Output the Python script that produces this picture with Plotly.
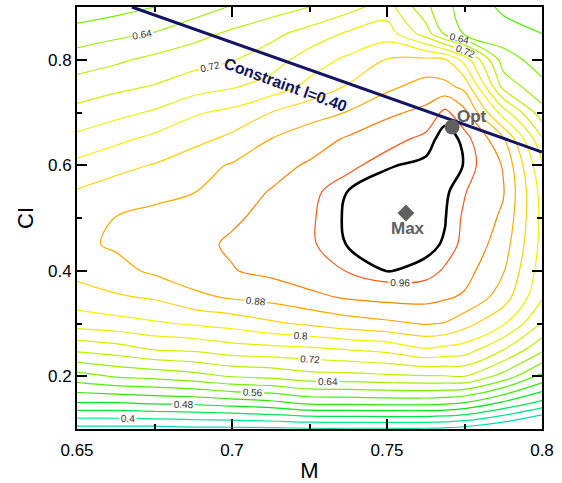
import plotly.graph_objects as go

# ---- grid axes -------------------------------------------------------------
M_values = [0.65, 0.6625, 0.675, 0.6875, 0.70, 0.7125, 0.725, 0.7375,
            0.75, 0.7625, 0.76875, 0.775, 0.7875, 0.80]
CI_values = [0.10, 0.15, 0.20, 0.25, 0.30, 0.35, 0.40, 0.45, 0.50,
             0.55, 0.60, 0.65, 0.70, 0.75, 0.80, 0.85, 0.90]

# ---- objective values, one list per CI row (M increasing) -------------------
ci_010 = [0.345, 0.345, 0.345, 0.350, 0.350, 0.352, 0.355, 0.355, 0.355, 0.355, 0.352, 0.345, 0.320, 0.280]
ci_015 = [0.480, 0.480, 0.487, 0.490, 0.500, 0.510, 0.530, 0.532, 0.535, 0.535, 0.530, 0.520, 0.475, 0.430]
ci_020 = [0.584, 0.604, 0.612, 0.625, 0.643, 0.650, 0.665, 0.667, 0.673, 0.677, 0.678, 0.680, 0.625, 0.550]
ci_025 = [0.688, 0.700, 0.720, 0.726, 0.740, 0.745, 0.750, 0.760, 0.770, 0.795, 0.787, 0.780, 0.720, 0.648]
ci_030 = [0.777, 0.785, 0.795, 0.805, 0.815, 0.833, 0.847, 0.862, 0.872, 0.883, 0.878, 0.855, 0.805, 0.718]
ci_035 = [0.822, 0.835, 0.845, 0.870, 0.885, 0.893, 0.910, 0.925, 0.932, 0.933, 0.925, 0.915, 0.860, 0.765]
ci_040 = [0.852, 0.868, 0.887, 0.905, 0.918, 0.930, 0.945, 0.962, 0.981, 0.975, 0.955, 0.935, 0.883, 0.780]
ci_045 = [0.872, 0.885, 0.894, 0.910, 0.925, 0.938, 0.955, 0.982, 0.990, 0.985, 0.978, 0.950, 0.900, 0.788]
ci_050 = [0.862, 0.881, 0.890, 0.905, 0.915, 0.930, 0.955, 0.985, 0.993, 0.990, 0.981, 0.955, 0.913, 0.790]
ci_055 = [0.843, 0.855, 0.870, 0.878, 0.903, 0.922, 0.950, 0.981, 0.990, 0.990, 0.985, 0.962, 0.923, 0.785]
ci_060 = [0.811, 0.830, 0.842, 0.867, 0.883, 0.905, 0.925, 0.950, 0.978, 0.985, 0.990, 0.979, 0.917, 0.765]
ci_065 = [0.770, 0.790, 0.810, 0.826, 0.850, 0.880, 0.900, 0.925, 0.945, 0.970, 0.990, 0.975, 0.885, 0.725]
ci_070 = [0.732, 0.748, 0.765, 0.795, 0.810, 0.840, 0.865, 0.882, 0.912, 0.930, 0.970, 0.930, 0.780, 0.655]
ci_075 = [0.697, 0.710, 0.722, 0.740, 0.755, 0.776, 0.810, 0.843, 0.870, 0.895, 0.890, 0.868, 0.665, 0.610]
ci_080 = [0.659, 0.673, 0.690, 0.705, 0.718, 0.740, 0.780, 0.808, 0.842, 0.850, 0.845, 0.785, 0.620, 0.580]
ci_085 = [0.617, 0.630, 0.642, 0.665, 0.687, 0.709, 0.735, 0.765, 0.780, 0.700, 0.630, 0.595, 0.575, 0.560]
ci_090 = [0.573, 0.585, 0.600, 0.620, 0.643, 0.660, 0.680, 0.706, 0.738, 0.650, 0.610, 0.585, 0.553, 0.545]

# contour levels and the levels that carry a value label
levels = [0.36, 0.40, 0.44, 0.48, 0.52, 0.56, 0.60, 0.64,
          0.68, 0.72, 0.76, 0.80, 0.84, 0.88, 0.92, 0.96]
labeled_levels = [0.40, 0.48, 0.56, 0.64, 0.72, 0.80, 0.88, 0.96]
peak_level = 0.98

# constraint line and marked points
constraint_M = [0.6677, 0.80]
constraint_CI = [0.90, 0.6251]
constraint_label = "Constraint l=0.40"
opt_M, opt_CI = [0.771], [0.6725]
max_M, max_CI = [0.7561], [0.5095]

# ---- styling ---------------------------------------------------------------
level_colors = ["#00dcb4", "#00e68c", "#00e650", "#00e619", "#2de600", "#50f000",
                "#78f000", "#96f000", "#b9f000", "#d2f000", "#e6f000", "#f5f000",
                "#ffd200", "#ffaa00", "#ff8200", "#ff5514"]
NAVY = "#141464"
GREY = "#606060"
FONT = "Liberation Sans, Arial, Helvetica, sans-serif"

z = [ci_010, ci_015, ci_020, ci_025, ci_030, ci_035, ci_040, ci_045, ci_050,
     ci_055, ci_060, ci_065, ci_070, ci_075, ci_080, ci_085, ci_090]

fig = go.Figure()

for lev, col in zip(levels, level_colors):
    show = any(abs(lev - l) < 1e-9 for l in labeled_levels)
    fig.add_trace(go.Contour(
        x=M_values, y=CI_values, z=z,
        autocontour=False,
        contours=dict(start=lev, end=lev, size=0.04, coloring="none",
                      showlabels=show, labelformat=".2~f",
                      labelfont=dict(family=FONT, size=10, color="#333333")),
        line=dict(color=col, width=1.2, smoothing=1.0),
        showscale=False, hoverinfo="skip", showlegend=False,
    ))

# thick black contour around the maximum
fig.add_trace(go.Contour(
    x=M_values, y=CI_values, z=z,
    autocontour=False,
    contours=dict(start=peak_level, end=peak_level, size=0.02, coloring="none"),
    line=dict(color="black", width=2.6, smoothing=1.0),
    showscale=False, hoverinfo="skip", showlegend=False,
))

# constraint line
fig.add_trace(go.Scatter(
    x=constraint_M, y=constraint_CI, mode="lines",
    line=dict(color=NAVY, width=3), hoverinfo="skip", showlegend=False,
))

# optimum and maximum markers
fig.add_trace(go.Scatter(
    x=opt_M, y=opt_CI, mode="markers",
    marker=dict(symbol="circle", size=15, color=GREY),
    hoverinfo="skip", showlegend=False,
))
fig.add_trace(go.Scatter(
    x=max_M, y=max_CI, mode="markers",
    marker=dict(symbol="diamond", size=13, color=GREY),
    hoverinfo="skip", showlegend=False,
))

fig.add_annotation(x=0.7171, y=0.754, text="<b>" + constraint_label + "</b>",
                   textangle=20, showarrow=False,
                   font=dict(family=FONT, size=16, color=NAVY))
fig.add_annotation(x=0.7774, y=0.6915, text="<b>Opt</b>", showarrow=False,
                   font=dict(family=FONT, size=17, color=GREY))
fig.add_annotation(x=0.7568, y=0.481, text="<b>Max</b>", showarrow=False,
                   font=dict(family=FONT, size=17, color=GREY))

axis_common = dict(
    showline=True, linecolor="black", linewidth=2, mirror="ticks",
    ticks="inside", ticklen=10, tickwidth=2, tickcolor="black",
    showgrid=False, zeroline=False, automargin=False,
    tickfont=dict(family=FONT, size=17, color="black"),
)

fig.update_xaxes(
    range=[0.65, 0.80], tick0=0.65, dtick=0.05, ticklabelstandoff=5,
    minor=dict(dtick=0.025, ticks="inside", ticklen=5, tickwidth=1.5, tickcolor="black"),
    title=dict(text="M", font=dict(family=FONT, size=22, color="black"), standoff=4),
    **axis_common,
)
fig.update_yaxes(
    range=[0.10, 0.90], tick0=0.2, dtick=0.2,
    minor=dict(dtick=0.1, ticks="inside", ticklen=5, tickwidth=1.5, tickcolor="black"),
    title=dict(text="CI", font=dict(family=FONT, size=22, color="black"), standoff=8),
    **axis_common,
)

fig.update_layout(
    width=562, height=483,
    margin=dict(l=77, r=20, t=7, b=54),
    paper_bgcolor="white", plot_bgcolor="white",
    font=dict(family=FONT),
    showlegend=False,
)

fig.write_html("out.html")
